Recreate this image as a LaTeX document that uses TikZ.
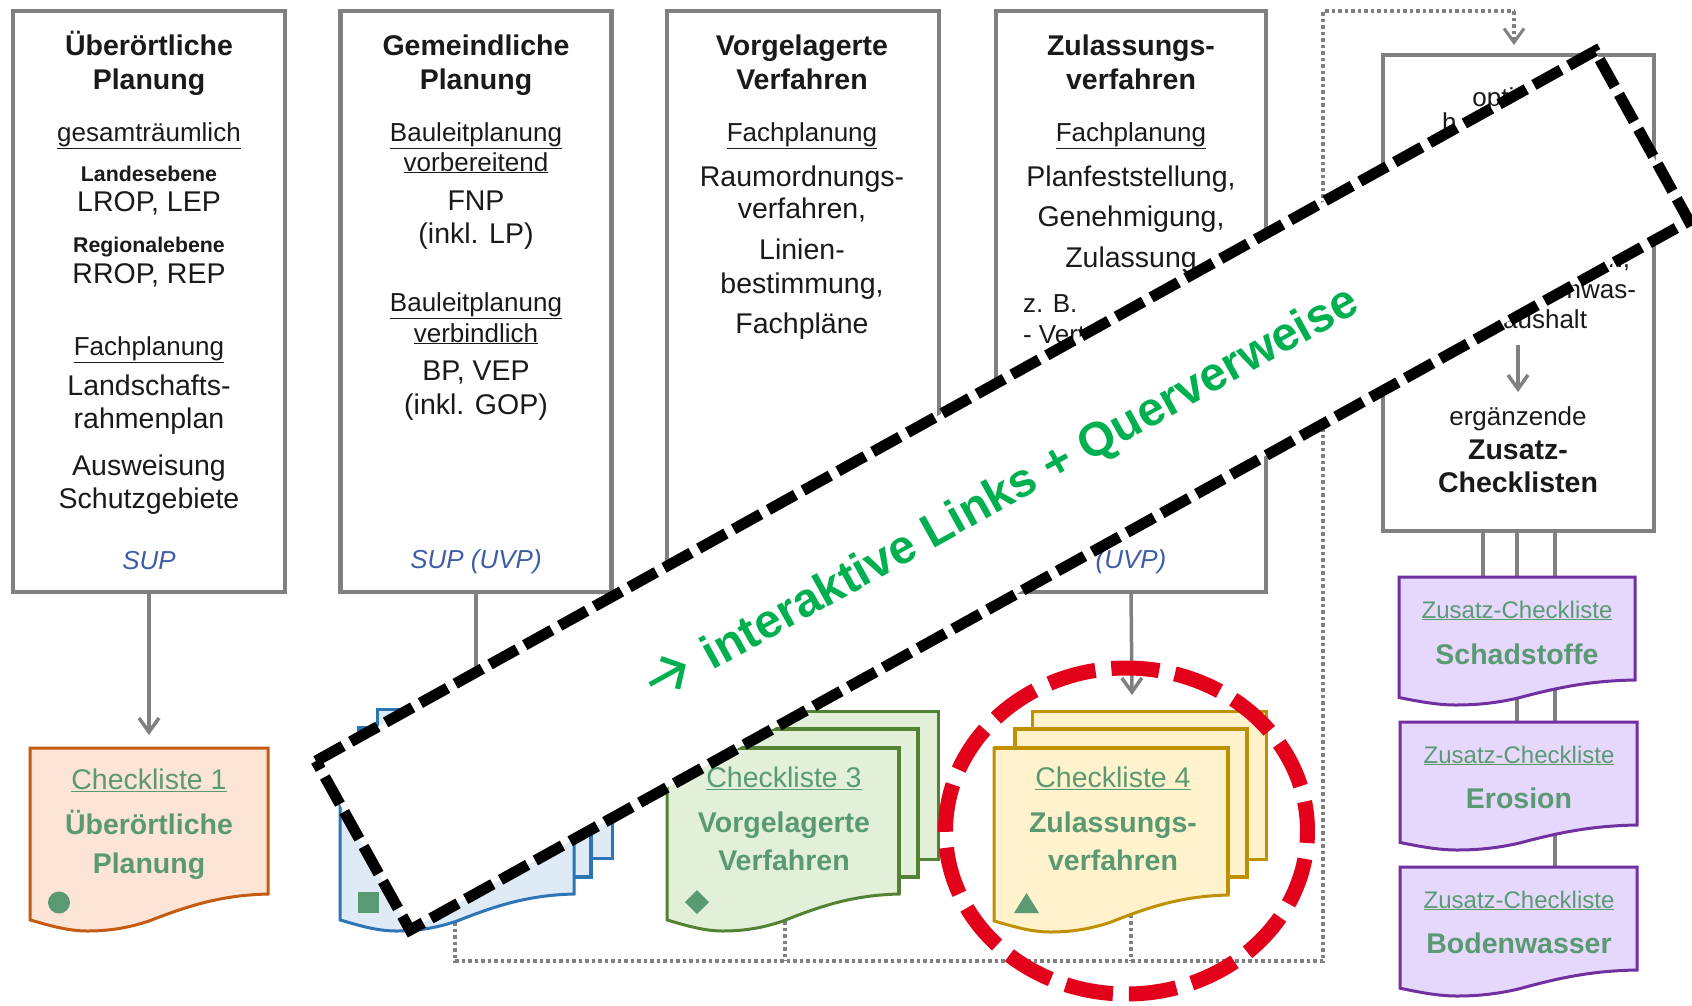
\documentclass[tikz,border=0pt]{standalone}
\usepackage{fontspec}
\setmainfont{Liberation Sans}
\newfontfamily\arrowfont{Fira Sans}
\usetikzlibrary{arrows.meta}
\definecolor{gline}{HTML}{808080}
\definecolor{tgreen}{HTML}{5A9A72}
\definecolor{sblue}{HTML}{3F5CA8}
\definecolor{bannergreen}{HTML}{00B050}
\definecolor{redring}{HTML}{E2001A}
\definecolor{ink}{HTML}{1A1A1A}
\definecolor{oF}{HTML}{FCE4D6}\definecolor{oB}{HTML}{C55A11}
\definecolor{bF}{HTML}{DEEAF6}\definecolor{bB}{HTML}{2E75B6}
\definecolor{gF}{HTML}{E2EFD9}\definecolor{gB}{HTML}{548235}
\definecolor{yF}{HTML}{FFF2CC}\definecolor{yB}{HTML}{BF9000}
\definecolor{pF}{HTML}{E6D7FC}\definecolor{pB}{HTML}{7030A0}
\tikzset{
  panel/.style={draw=gline,line width=4.5pt,fill=white,inner sep=0pt,outer sep=0pt},
  txt/.style={inner sep=0pt,outer sep=0pt,align=center,text=ink,yshift=-3pt},
  head/.style={txt,font=\fontsize{28.5}{28.5}\selectfont\bfseries,text height=21pt,text depth=7pt},
  reg/.style={txt,font=\fontsize{28.5}{28.5}\selectfont,text height=20pt,text depth=7pt},
  ureg/.style={txt,font=\fontsize{26}{26}\selectfont,text height=19pt,text depth=7pt},
  lvl/.style={txt,font=\fontsize{21.3}{21.3}\selectfont\bfseries,text height=15pt,text depth=5pt},
  notetxt/.style={txt,font=\fontsize{26}{26}\selectfont\itshape,text=sblue,text height=18pt,text depth=6pt},
  cktitle/.style={txt,text=tgreen,font=\fontsize{28.5}{28.5}\selectfont,text height=20pt,text depth=7pt},
  zztitle/.style={txt,text=tgreen,font=\fontsize{24}{24}\selectfont,text height=18pt,text depth=6pt},
  ckname/.style={txt,text=tgreen,font=\fontsize{28.5}{28.5}\selectfont\bfseries,text height=21pt,text depth=7pt},
  conn/.style={draw=gline,line width=3.5pt},
  arr/.style={conn,-{Straight Barb[length=14pt,width=20pt,line width=3.5pt]}},
  dots/.style={draw=gline,line width=3.5pt,dash pattern=on 3.5pt off 3pt},
  dotarr/.style={dots,-{Straight Barb[length=14pt,width=20pt,line width=3pt]}},
  markshape/.style={fill=tgreen,draw=none},
  shO/.style={draw=oB,fill=oF,line width=3pt,line join=miter},
  shB/.style={draw=bB,fill=bF,line width=3pt,line join=miter},
  shG/.style={draw=gB,fill=gF,line width=3pt,line join=miter},
  shY/.style={draw=yB,fill=yF,line width=3pt,line join=miter},
  shP/.style={draw=pB,fill=pF,line width=3pt,line join=miter},
}
% #1 style, #2 L, #3 R, #4 T, #5 right-hand bottom, #6 wave depth
\newcommand\docfront[6]{%
  \path[#1] (#2,#4) -- (#3,#4) -- (#3,#5)
    .. controls ({#2+0.80*(#3-#2)},{#5+0.03*#6}) and ({#2+0.66*(#3-#2)},{#5+0.33*#6}) .. ({#2+0.50*(#3-#2)},{#5+0.73*#6})
    .. controls ({#2+0.42*(#3-#2)},{#5+0.90*#6}) and ({#2+0.34*(#3-#2)},{#5+#6}) .. ({#2+0.24*(#3-#2)},{#5+#6})
    .. controls ({#2+0.16*(#3-#2)},{#5+#6}) and ({#2+0.08*(#3-#2)},{#5+0.85*#6}) .. (#2,{#5+0.70*#6}) -- cycle;}
\newcommand\docback[5]{\path[#1] (#2,#4) rectangle (#3,#5);}
\begin{document}
\begin{tikzpicture}[x=1pt,y=-1pt]
\useasboundingbox[fill=white] (0,0) rectangle (1692,1005);
% panels
\node[panel,minimum width=272pt,minimum height=581pt] (b1) at (149,301.5) {};
\node[panel,minimum width=271pt,minimum height=581pt] (b2) at (476,301.5) {};
\node[panel,minimum width=272pt,minimum height=581pt] (b3) at (803,301.5) {};
\node[panel,minimum width=270pt,minimum height=581pt] (b4) at (1131,301.5) {};
\node[panel,minimum width=271pt,minimum height=476pt] (b5) at (1518.5,293) {};
% connector targets
\coordinate (c1top) at (149,735);
\coordinate (c2top) at (476,695);
\coordinate (c3top) at (803,695);
\coordinate (c4top) at (1132,695);
\coordinate (b5arrA) at (1518,345);
\coordinate (b5arrB) at (1518,392);
\coordinate (dotA) at (455,922);
\coordinate (dotAc) at (455,961);
\coordinate (dotBa) at (785,895);
\coordinate (dotBb) at (785,961);
\coordinate (dotCa) at (1131,895);
\coordinate (dotCb) at (1131,961);
\coordinate (dotR) at (1323,961);
\coordinate (dotT) at (1323,11);
\coordinate (dotTr) at (1514,11);
\coordinate (dotEnd) at (1514,45);
% connectors
\draw[arr] (b1.south) -- (c1top);
\draw[arr] (b2.south) -- (c2top);
\draw[arr] (b3.south) -- (c3top);
\draw[arr] (b4.south) -- (c4top);
\draw[arr] (b5arrA) -- (b5arrB);
\draw[dots] (dotA) -- (dotAc) -- (dotR) -- (dotT) -- (dotTr);
\draw[dots] (dotBa) -- (dotBb);
\draw[dots] (dotCa) -- (dotCb);
\draw[dotarr] (dotTr) -- (dotEnd);
% panel 1
\node[head] (t1a) at (149,45) {Überörtliche};
\node[head] (t1b) at (149,79) {Planung};
\node[ureg] (t1c) at (149,132) {\underline{gesamträumlich}};
\node[lvl] (t1d) at (149,173) {Landesebene};
\node[reg] (t1e) at (149,202) {LROP, LEP};
\node[lvl] (t1f) at (149,244) {Regionalebene};
\node[reg] (t1g) at (149,274) {RROP, REP};
\node[ureg] (t1h) at (149,346) {\underline{Fachplanung}};
\node[reg] (t1i) at (149,386) {Landschafts-};
\node[reg] (t1j) at (149,419) {rahmenplan};
\node[reg] (t1k) at (149,466) {Ausweisung};
\node[reg] (t1l) at (149,499) {Schutzgebiete};
\node[notetxt] (t1m) at (149,560) {SUP};
% panel 2
\node[head] (t2a) at (476,45) {Gemeindliche};
\node[head] (t2b) at (476,79) {Planung};
\node[ureg] (t2c) at (476,132) {\underline{Bauleitplanung}};
\node[ureg] (t2d) at (476,162) {\underline{vorbereitend}};
\node[reg] (t2e) at (476,201) {FNP};
\node[reg] (t2f) at (476,234) {(inkl. LP)};
\node[ureg] (t2g) at (476,302) {\underline{Bauleitplanung}};
\node[ureg] (t2h) at (476,333) {\underline{verbindlich}};
\node[reg] (t2i) at (476,371) {BP, VEP};
\node[reg] (t2j) at (476,405) {(inkl. GOP)};
\node[notetxt] (t2k) at (476,559) {SUP (UVP)};
% panel 3
\node[head] (t3a) at (802,45) {Vorgelagerte};
\node[head] (t3b) at (802,79) {Verfahren};
\node[ureg] (t3c) at (802,132) {\underline{Fachplanung}};
\node[reg] (t3d) at (802,177) {Raumordnungs-};
\node[reg] (t3e) at (802,209) {verfahren,};
\node[reg] (t3f) at (802,250) {Linien-};
\node[reg] (t3g) at (802,284) {bestimmung,};
\node[reg] (t3h) at (802,324) {Fachpläne};
% panel 4
\node[head] (t4a) at (1131,45) {Zulassungs-};
\node[head] (t4b) at (1131,79) {verfahren};
\node[ureg] (t4c) at (1131,132) {\underline{Fachplanung}};
\node[reg] (t4d) at (1131,177) {Planfeststellung,};
\node[reg] (t4e) at (1131,217) {Genehmigung,};
\node[reg] (t4f) at (1131,258) {Zulassung};
\node[ureg,anchor=west] (t4g) at (1023,303) {z. B.};
\node[ureg,anchor=west] (t4h) at (1023,334) {- Vert};
\node[notetxt] (t4i) at (1131,559) {(UVP)};
% panel 5
\node[ureg] (t5a) at (1518,97) {optional};
\node[ureg,anchor=west] (t5b) at (1442,122) {h};
\node[ureg,anchor=east] (t5c) at (1630,258) {Erosion,};
\node[ureg,anchor=east] (t5d) at (1636,289) {Bodenwas-};
\node[ureg,anchor=east] (t5e) at (1587,319) {serhaushalt};
\node[ureg] (t5f) at (1518,416) {ergänzende};
\node[head] (t5g) at (1518,449) {Zusatz-};
\node[head] (t5h) at (1518,482) {Checklisten};
% lower links panel 5 to purple sheets
\coordinate (zs1) at (1483,577);
\coordinate (zs2) at (1517,577);
\coordinate (zs3) at (1555,577);
\coordinate (zp1) at (1483,531);
\coordinate (zp2) at (1517,531);
\coordinate (zp3) at (1555,531);
\coordinate (zm1) at (1517,690);
\coordinate (zm2) at (1517,722);
\coordinate (zm3) at (1555,680);
\coordinate (zm4) at (1555,722);
\coordinate (zm5) at (1555,835);
\coordinate (zm6) at (1555,867);
\draw[conn,line width=4.5pt] (zp1) -- (zs1);
\draw[conn] (zp2) -- (zs2);
\draw[conn] (zp3) -- (zs3);
\draw[conn] (zm1) -- (zm2);
\draw[conn] (zm3) -- (zm4);
\draw[conn] (zm5) -- (zm6);
% sheet 1
\docfront{shO}{30}{268}{748}{894}{37}
\node[cktitle] (c1a) at (149,780) {\underline{Checkliste 1}};
\node[ckname] (c1b) at (149,824) {Überörtliche};
\node[ckname] (c1c) at (149,863) {Planung};
\path[markshape] (59,902.5) circle[radius=11];
% sheet 2
\docback{shB}{377}{612}{709}{858}
\docback{shB,line width=3.5pt}{359}{591}{728}{877}
\docfront{shB}{340}{574}{748}{894}{37}
\path[markshape] (358,892) rectangle (379,913);
% sheet 3
\docback{shG}{705}{938}{711}{859}
\docback{shG,line width=4pt}{686}{918}{729}{877}
\docfront{shG}{667}{899}{748}{894}{37}
\path[draw=gB,line width=4pt] (667,748) -- (899,748) -- (899,894);
\node[cktitle] (c3a) at (784,778) {\underline{Checkliste 3}};
\node[ckname] (c3b) at (784,822) {Vorgelagerte};
\node[ckname] (c3c) at (784,860) {Verfahren};
\path[markshape] (697,890) -- (709,902) -- (697,914) -- (685,902) -- cycle;
% sheet 4
\docback{shY}{1032}{1266}{711}{859}
\docback{shY,line width=4pt}{1015}{1247}{729}{877}
\docfront{shY}{994}{1228}{748}{895}{37}
\path[draw=yB,line width=4pt] (994,748) -- (1228,748) -- (1228,895);
\node[cktitle] (c4a) at (1113,778) {\underline{Checkliste 4}};
\node[ckname] (c4b) at (1113,822) {Zulassungs-};
\node[ckname] (c4c) at (1113,860) {verfahren};
\path[markshape] (1026.5,893) -- (1039,913) -- (1014,913) -- cycle;
% purple sheets
\docfront{shP}{1399}{1635}{577}{680}{25}
\node[zztitle] (z1a) at (1517,609) {\underline{Zusatz-Checkliste}};
\node[ckname] (z1b) at (1517,654) {Schadstoffe};
\docfront{shP}{1400}{1637}{722}{825}{25}
\node[zztitle] (z2a) at (1519,754) {\underline{Zusatz-Checkliste}};
\node[ckname] (z2b) at (1519,798) {Erosion};
\docfront{shP}{1400}{1637}{867}{970}{26}
\node[zztitle] (z3a) at (1519,899) {\underline{Zusatz-Checkliste}};
\node[ckname] (z3b) at (1519,943) {Bodenwasser};
% red ring
\draw[redring,line width=15pt,dash pattern=on 48pt off 16pt,dash phase=36pt] (1126.5,831) ellipse[x radius=181,y radius=163];
% banner
\draw[black,fill=white,line width=11pt,dash pattern=on 31pt off 8.8pt] (316,761) -- (1595,51) -- (1689,221) -- (410,930) -- cycle;
\node[rotate=29,inner sep=0pt,text=bannergreen,font=\fontsize{47.6}{47.6}\selectfont\bfseries,text height=35pt,text depth=10pt] (bt) at (1031,480) {interaktive Links + Querverweise};
\node[rotate=29,inner sep=0pt,text=bannergreen,font=\fontsize{62}{62}\arrowfont] (ba) at (668,676) {→};
\end{tikzpicture}
\end{document}
